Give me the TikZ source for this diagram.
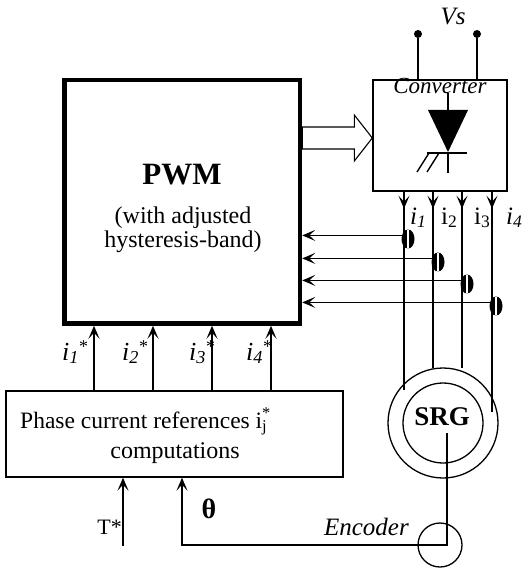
\documentclass[tikz,border=0pt]{standalone}
\usepackage{fontspec}
\setmainfont{Liberation Serif}
\usetikzlibrary{
	arrows.meta,       %箭头
	positioning,       %定位
	shapes.geometric,  %椭圆
	calc               %计算
}
\tikzset{
	every picture/.style={
		>={Stealth[length=13pt,width=11pt,inset=6pt]}
	},
	wire/.style={line width=1.4pt},
	box/.style={draw,rectangle,line width=1.4pt,inner sep=0pt},
	dot/.style={circle,fill=black,inner sep=0pt,minimum size=8pt},
	sensor/.style={ellipse,fill=black,inner sep=0pt,minimum width=13pt,minimum height=19pt,
		path picture={\draw[white,line width=1.8pt] (path picture bounding box.north) -- (path picture bounding box.south);}},
	txt/.style={inner sep=0pt,anchor=base,font=\fontsize{25}{29}\selectfont},
	ring/.style={draw,circle,line width=1.3pt,inner sep=0pt}
}

\begin{document}
\begin{tikzpicture}[x=1pt,y=-1pt]
\useasboundingbox (0,0) rectangle (523,569);
%PWM方框
\node[box,line width=4.5pt,minimum width=235.5pt,minimum height=243.5pt] (pwm) at (182.25,201.75) {};
\node[txt,font=\fontsize{31}{35}\selectfont\bfseries] (pwmtxt) at (182,185) {PWM};
\node[txt,font=\fontsize{24}{28}\selectfont] (band1) at (183,223) {(with adjusted};
\node[txt,font=\fontsize{24}{28}\selectfont] (band2) at (183,247) {hysteresis-band)};
%变换器
\node[box,minimum width=134pt,minimum height=111pt] (conv) at (440,135.5) {};
\node[txt,font=\fontsize{23}{27}\selectfont\itshape] (convtxt) at (440,94) {Converter};
\node[dot] (t1) at (418,34) {};
\node[dot] (t2) at (477,34) {};
\draw[wire] (t1) -- (t1 |- conv.north);
\draw[wire] (t2) -- (t2 |- conv.north);
\node[txt,font=\fontsize{25}{29}\selectfont\itshape] (vs) at (453,25) {Vs};
%晶闸管
\draw[wire] (448,93) -- (448,110);
\fill (428,110) -- (468,110) -- (448,152) -- cycle;
\draw[wire] (427,153) -- (467,153);
\draw[wire] (448,153) -- (448,173);
\draw[wire] (429,153) -- (417,172) (439,153) -- (427,172);
%空心箭头
\path (conv.west) ++(0,2.5) coordinate (tip);
\draw[line width=1.1pt,fill=white] (tip) -- ++(-18,-23) -- ++(0,12) -- ($(tip -| pwm.east)+(0,-11)$)
	-- ++(0,22) -- ($(tip)+(-18,11)$) -- ++(0,12) -- cycle;
%相电流
\foreach \k/\x/\e in {1/404/390,2/433/368,3/462/368,4/492/412}{
	\coordinate (c\k) at (\x,0);
	\coordinate (e\k) at (\x,\e);
	\draw[wire] (c\k |- conv.south) -- (e\k);
	\draw[wire,->] (c\k |- conv.south) -- ++(0,17);
}
\node[txt,anchor=base west] (l1) at (410,224) {\textit{i\textsubscript{1}}};
\node[txt,anchor=base west] (l2) at (441,224) {i\textsubscript{2}};
\node[txt,anchor=base west] (l3) at (474,224) {i\textsubscript{3}};
\node[txt,anchor=base west] (l4) at (506,224) {\textit{i\textsubscript{4}}};
%电流传感器
\foreach \k/\x/\y in {1/408/239,2/438/262,3/467/284,4/496/306}{
	\node[sensor] (s\k) at (\x,\y) {};
	\draw[wire,->] (s\k.150) -- (s\k.150 -| pwm.east);
}
%相电流参考值计算
\node[box,minimum width=337pt,minimum height=86pt] (phase) at (174.5,434) {};
\node[txt,anchor=base west,font=\fontsize{23.5}{28}\selectfont] (ph1) at (20,428) {Phase current references i\rlap{\textsubscript{j}}\textsuperscript{*}};
\node[txt,font=\fontsize{24}{28}\selectfont] (ph2) at (175,458) {computations};
\foreach \k/\x/\l in {1/94/62,2/153/122,3/212/189,4/271/246}{
	\coordinate (r\k) at (\x,0);
	\draw[wire,->] (r\k |- phase.north) -- (r\k |- pwm.south);
	\node[txt,anchor=base west,font=\fontsize{26}{30}\selectfont] (ref\k) at (\l,360) {\textit{i\textsubscript{\k}}\raisebox{8pt}{\fontsize{18}{18}\selectfont *}};
}
%电机
\node[ring,minimum size=110pt] (srgout) at (443,423) {};
\node[ring,minimum size=80pt] (srg) at (443,423) {};
\node[txt,font=\fontsize{27}{31}\selectfont\bfseries] (srgtxt) at (442,425) {SRG};
%编码器
\node[ring,minimum size=44pt] (enc) at (440,545) {};
\node[txt,anchor=base east,font=\fontsize{25}{29}\selectfont\itshape] (enctxt) at (409,535) {Encoder};
\coordinate (sh) at (447,433);
\coordinate (fb) at (182,0);
\draw[wire,->] (sh) -- (sh |- enc.center) -- (fb |- enc.center) -- (fb |- phase.south);
\node[txt,font=\fontsize{28}{32}\selectfont\bfseries] (theta) at (209,518) {θ};
\coordinate (tq) at (123,546);
\draw[wire,->] (tq) -- (tq |- phase.south);
\node[txt,anchor=base east,font=\fontsize{22}{26}\selectfont] (ttxt) at (122,534) {T*};
\end{tikzpicture}
\end{document}
